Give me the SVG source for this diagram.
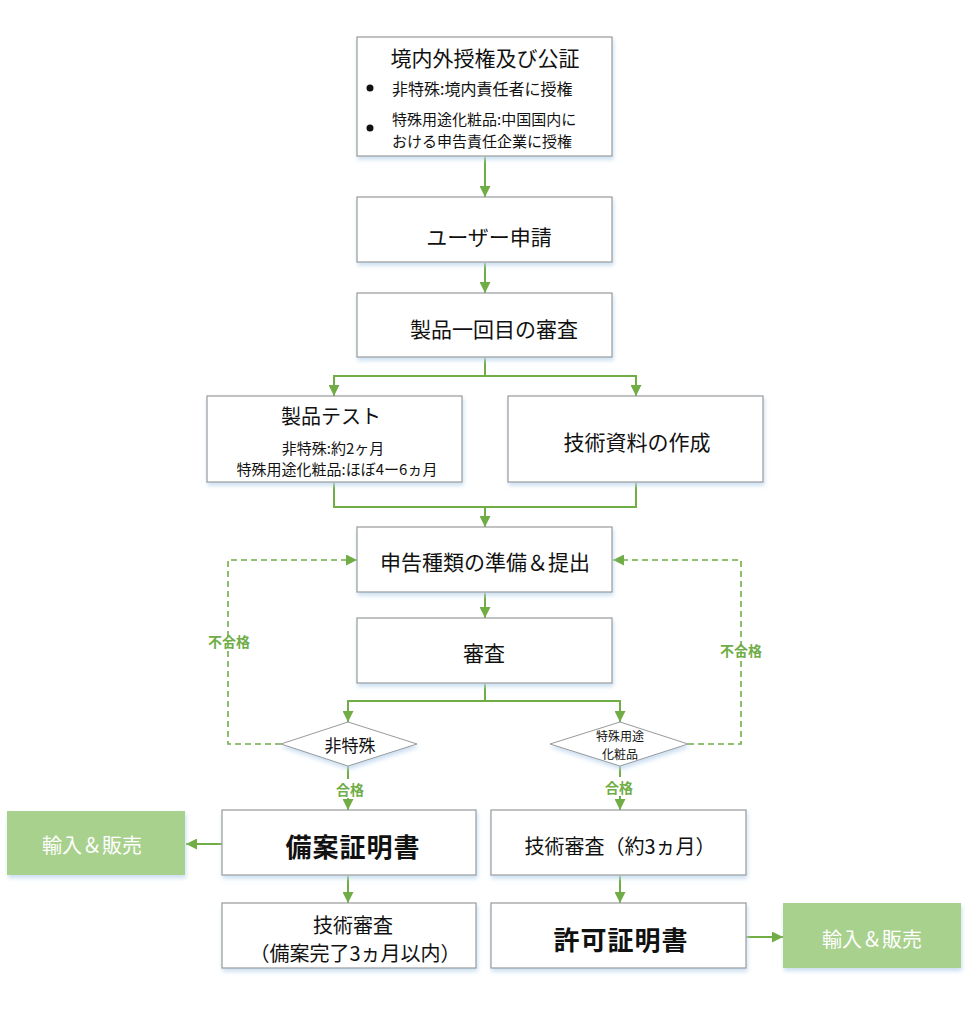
<svg xmlns="http://www.w3.org/2000/svg" width="967" height="1010" viewBox="0 0 967 1010">
<defs>
<marker id="ah" viewBox="0 0 10 10" refX="10" refY="5" markerWidth="11" markerHeight="11" markerUnits="userSpaceOnUse" orient="auto">
<path d="M0,0 L10,5 L0,10 Z" fill="#70ad47"/>
</marker>
<filter id="sh" x="-5%" y="-5%" width="115%" height="125%">
<feDropShadow dx="1" dy="3" stdDeviation="2" flood-color="#bdd7ee" flood-opacity="0.8"/>
</filter>
<style>
.box{fill:#fff;stroke:#999;stroke-width:1.2;filter:url(#sh)}
.gbox{fill:#a9d18e;filter:url(#sh)}
.dia{fill:#fff;stroke:#999;stroke-width:1;filter:url(#sh)}
text{font-family:"Noto Sans CJK JP","Noto Sans",sans-serif;fill:#111;text-anchor:middle;dominant-baseline:central}
.t21{font-size:21px}
.t20{font-size:20px}
.t16{font-size:16px}
.t15{font-size:15px}
.t17{font-size:17px}
.t12{font-size:12px}
.b26{font-size:26px;font-weight:bold;letter-spacing:1px}
.w20{font-size:20px;fill:#fff}
.lbl{font-size:14px;font-weight:bold;fill:#70ad47}
.c{fill:none;stroke:#70ad47;stroke-width:2}
.ca{fill:none;stroke:#70ad47;stroke-width:2;marker-end:url(#ah)}
.da{fill:none;stroke:#70ad47;stroke-width:1.6;stroke-dasharray:6,4;marker-end:url(#ah)}
</style>
</defs>
<g id="connectors">
<line class="ca" x1="485" y1="157" x2="485" y2="197"/>
<line class="ca" x1="485" y1="263" x2="485" y2="293"/>
<polyline class="c" points="485,358 485,376"/>
<polyline class="ca" points="485,376 334,376 334,396"/>
<polyline class="ca" points="485,376 636,376 636,396"/>
<polyline class="c" points="334,483 334,507 636,507 636,483"/>
<line class="ca" x1="485" y1="507" x2="485" y2="527"/>
<line class="ca" x1="485" y1="593" x2="485" y2="618"/>
<polyline class="c" points="485,684 485,701"/>
<polyline class="ca" points="485,701 348,701 348,722"/>
<polyline class="ca" points="485,701 620,701 620,722"/>
<polyline class="da" points="281,744 228,744 228,560 357,560"/>
<polyline class="da" points="688,744 741,744 741,560 613,560"/>
<line class="c" x1="348" y1="766" x2="348" y2="779"/>
<line class="ca" x1="348" y1="798" x2="348" y2="810"/>
<line class="c" x1="620" y1="766" x2="620" y2="777"/>
<line class="ca" x1="620" y1="796" x2="620" y2="810"/>
<line class="ca" x1="222" y1="844" x2="186" y2="844"/>
<line class="ca" x1="348" y1="876" x2="348" y2="903"/>
<line class="ca" x1="620" y1="876" x2="620" y2="903"/>
<line class="ca" x1="746" y1="937" x2="783" y2="937"/>
<text class="lbl" x="229" y="641">不合格</text>
<text class="lbl" x="741" y="650">不合格</text>
<text class="lbl" x="350" y="789">合格</text>
<text class="lbl" x="619" y="787">合格</text>
</g>
<g id="n1">
<rect class="box" x="357" y="37" width="255" height="119"/>
<text class="t21" x="485" y="57">境内外授権及び公証</text>
<circle cx="370" cy="88" r="3.5" fill="#111"/>
<text class="t16" x="392" y="88" style="text-anchor:start">非特殊:境内責任者に授権</text>
<circle cx="370" cy="128" r="3.5" fill="#111"/>
<text class="t15" x="392" y="118" style="text-anchor:start">特殊用途化粧品:中国国内に</text>
<text class="t15" x="392" y="140" style="text-anchor:start">おける申告責任企業に授権</text>
</g>
<g id="n2">
<rect class="box" x="357" y="197" width="255" height="65"/>
<text class="t21" x="489" y="236">ユーザー申請</text>
</g>
<g id="n3">
<rect class="box" x="357" y="293" width="255" height="64"/>
<text class="t21" x="494" y="328">製品一回目の審査</text>
</g>
<g id="n4">
<rect class="box" x="207" y="396" width="255" height="86"/>
<text class="t20" x="331" y="415">製品テスト</text>
<text class="t15" x="333" y="447">非特殊:約2ヶ月</text>
<text class="t15" x="337" y="468">特殊用途化粧品:ほぼ4ー6ヵ月</text>
</g>
<g id="n5">
<rect class="box" x="508" y="396" width="255" height="86"/>
<text class="t21" x="637" y="441">技術資料の作成</text>
</g>
<g id="n6">
<rect class="box" x="357" y="527" width="255" height="65"/>
<text class="t21" x="485" y="561">申告種類の準備＆提出</text>
</g>
<g id="n7">
<rect class="box" x="357" y="618" width="255" height="65"/>
<text class="t21" x="484" y="652">審査</text>
</g>
<g id="d1">
<polygon class="dia" points="348,722 417,744 348,766 281,744"/>
<text class="t17" x="350" y="744">非特殊</text>
</g>
<g id="d2">
<polygon class="dia" points="620,722 688,744 620,766 550,744"/>
<text class="t12" x="620" y="735">特殊用途</text>
<text class="t12" x="620" y="753">化粧品</text>
</g>
<g id="n8">
<rect class="box" x="222" y="810" width="254" height="65"/>
<text class="b26" x="353" y="845">備案証明書</text>
</g>
<g id="n9">
<rect class="box" x="491" y="810" width="255" height="65"/>
<text class="t20" x="620" y="845">技術審査（約3ヵ月）</text>
</g>
<g id="n10">
<rect class="box" x="222" y="903" width="254" height="65"/>
<text class="t20" x="353" y="924">技術審査</text>
<text class="t20" x="355" y="952">（備案完了3ヵ月以内）</text>
</g>
<g id="n11">
<rect class="box" x="491" y="903" width="255" height="65"/>
<text class="b26" x="621" y="938">許可証明書</text>
</g>
<g id="g1">
<rect class="gbox" x="7" y="811" width="178" height="64"/>
<text class="w20" x="92" y="844">輸入＆販売</text>
</g>
<g id="g2">
<rect class="gbox" x="783" y="903" width="178" height="65"/>
<text class="w20" x="872" y="938">輸入＆販売</text>
</g>
</svg>
